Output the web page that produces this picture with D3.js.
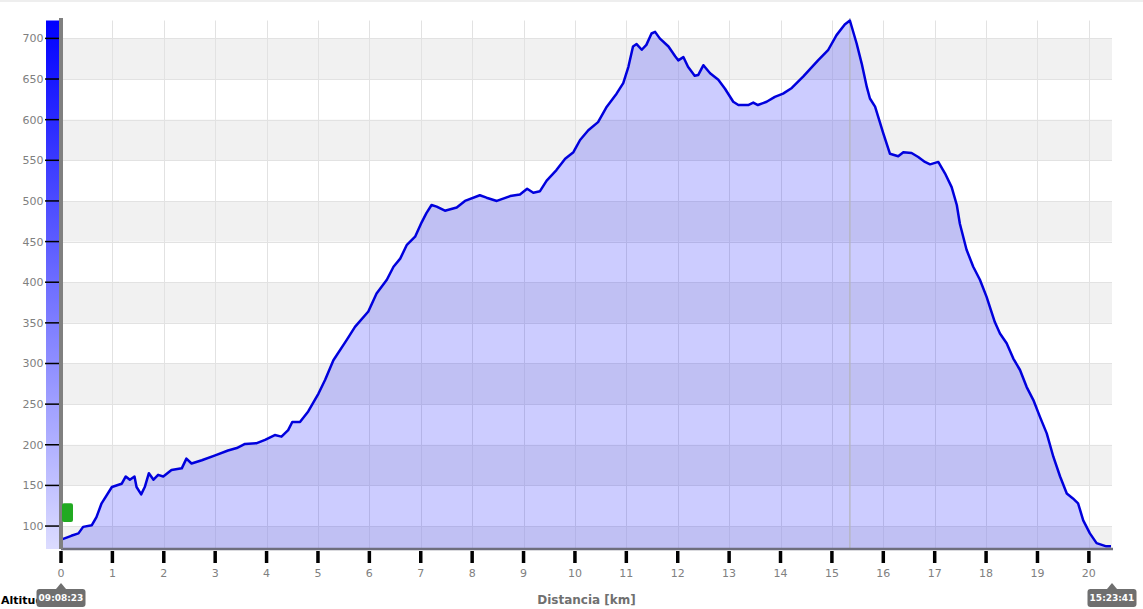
<!DOCTYPE html>
<html>
<head>
<meta charset="utf-8">
<script src="https://cdn.jsdelivr.net/npm/d3@7"></script>
<style>
  body { margin: 0; background: #fff; }
  svg { display: block; font-family: "DejaVu Sans", Verdana, sans-serif; }
</style>
</head>
<body>
<svg width="1143" height="609"></svg>
<script>
// elevation profile
var distKm = [0, 0.03, 0.2, 0.34, 0.43, 0.6, 0.69, 0.79, 0.99, 1.18, 1.26, 1.34, 1.43, 1.47, 1.56, 1.63, 1.71, 1.8, 1.89, 1.99,
  2.15, 2.35, 2.44, 2.54, 2.74, 3.0, 3.25, 3.42, 3.58, 3.81, 3.97, 4.16, 4.29, 4.42, 4.5, 4.65, 4.81, 5.01, 5.14, 5.3,
  5.56, 5.72, 5.98, 6.14, 6.34, 6.47, 6.6, 6.73, 6.89, 7.02, 7.11, 7.21, 7.31, 7.47, 7.7, 7.86, 8.15, 8.28, 8.48, 8.74,
  8.93, 9.07, 9.19, 9.32, 9.45, 9.64, 9.81, 9.97, 10.1, 10.26, 10.45, 10.62, 10.81, 10.94, 11.04, 11.13, 11.2, 11.3, 11.39, 11.49,
  11.56, 11.65, 11.82, 11.95, 12.01, 12.11, 12.2, 12.33, 12.4, 12.5, 12.63, 12.79, 12.92, 13.08, 13.18, 13.37, 13.47, 13.56, 13.73, 13.89,
  14.05, 14.22, 14.44, 14.73, 14.93, 15.09, 15.25, 15.35, 15.48, 15.58, 15.68, 15.74, 15.84, 16.0, 16.13, 16.29, 16.39, 16.55, 16.68, 16.81,
  16.91, 17.07, 17.2, 17.33, 17.43, 17.49, 17.62, 17.75, 17.88, 18.01, 18.17, 18.27, 18.4, 18.53, 18.66, 18.79, 18.92, 19.05, 19.18, 19.31,
  19.44, 19.57, 19.69, 19.79, 19.89, 20.02, 20.15, 20.34, 20.43];
var altM = [83, 84, 88, 91, 99, 101, 111, 128, 148, 152, 161, 157, 161, 148, 139, 148, 165, 157, 163, 161,
  169, 171, 183, 177, 181, 187, 193, 196, 201, 202, 206, 212, 210, 218, 228, 228, 241, 263, 280, 304,
  329, 345, 364, 386, 403, 419, 429, 446, 456, 474, 485, 495, 493, 488, 492, 500, 507, 504, 500, 506,
  508, 515, 510, 512, 525, 538, 552, 560, 575, 587, 597, 616, 632, 645, 665, 690, 693, 686, 692, 706,
  708, 700, 690, 678, 673, 677, 665, 654, 655, 667, 657, 649, 638, 622, 618, 618, 621, 618, 622, 628,
  632, 639, 653, 673, 686, 704, 717, 722, 694, 669, 640, 626, 616, 583, 558, 555, 560, 559, 554, 548,
  545, 548, 534, 517, 495, 472, 440, 419, 403, 382, 351, 337, 325, 306, 292, 271, 255, 234, 214, 185,
  161, 140, 134, 128, 107, 91, 79, 75, 75];

var xTicks = d3.range(0, 21);
var yTicks = d3.range(100, 701, 50);
var startTime = '09:08:23';
var endTime = '15:23:41';
var cursorKm = 15.35;
var xLabel = 'Distancia [km]';
var yLabel = 'Altitud [m]';

var data = distKm.map(function(d, i) { return {km: d, alt: altM[i]}; });

var svg = d3.select('svg');
var plotLeft = 61, plotRight = 1112, plotTop = 20.5, plotBottom = 548;

var x = d3.scaleLinear().domain([0, 20.45]).range([plotLeft, plotRight]);
var y = d3.scaleLinear().domain([73, 722]).range([plotBottom, plotTop]);

// thin strip at the very top
svg.append('rect').attr('x', 0).attr('y', 0).attr('width', 1143).attr('height', 2).attr('fill', '#eeeeee');

// alternating bands
var bands = yTicks.filter(function(v) { return v % 100 === 0; });
svg.append('g').selectAll('rect')
  .data(bands)
  .enter().append('rect')
  .attr('x', plotLeft)
  .attr('width', plotRight - plotLeft)
  .attr('y', function(d) { return y(d); })
  .attr('height', function(d) { return Math.min(y(d - 50), plotBottom) - y(d); })
  .attr('fill', '#f1f1f1');

// grid
var grid = svg.append('g').attr('stroke', '#e2e2e2').attr('stroke-width', 1);
grid.selectAll('.h').data(yTicks).enter().append('line')
  .attr('x1', plotLeft).attr('x2', plotRight)
  .attr('y1', function(d) { return Math.round(y(d)) + 0.5; })
  .attr('y2', function(d) { return Math.round(y(d)) + 0.5; });
grid.selectAll('.v').data(xTicks).enter().append('line')
  .attr('y1', plotTop).attr('y2', plotBottom)
  .attr('x1', function(d) { return Math.round(x(d)) + 0.5; })
  .attr('x2', function(d) { return Math.round(x(d)) + 0.5; });

// area + line
var area = d3.area()
  .x(function(d) { return x(d.km); })
  .y0(plotBottom)
  .y1(function(d) { return y(d.alt); });
var line = d3.line()
  .x(function(d) { return x(d.km); })
  .y(function(d) { return y(d.alt); });

svg.append('path').datum(data)
  .attr('d', area)
  .attr('fill', '#0000ff')
  .attr('fill-opacity', 0.2);

// cursor line at the summit
svg.append('line')
  .attr('x1', x(cursorKm)).attr('x2', x(cursorKm))
  .attr('y1', 18).attr('y2', plotBottom)
  .attr('stroke', '#b4b4bc').attr('stroke-width', 1.3);

svg.append('path').datum(data)
  .attr('d', line)
  .attr('fill', 'none')
  .attr('stroke', '#0000dd')
  .attr('stroke-width', 2.5)
  .attr('stroke-linejoin', 'round');

// bottom axis line
svg.append('line')
  .attr('x1', plotLeft).attr('x2', plotRight + 1)
  .attr('y1', plotBottom + 1).attr('y2', plotBottom + 1)
  .attr('stroke', '#6e6e7c').attr('stroke-width', 2.5);

// colour bar on the left
var grad = svg.append('defs').append('linearGradient')
  .attr('id', 'altGrad').attr('x1', 0).attr('x2', 0).attr('y1', 0).attr('y2', 1);
grad.append('stop').attr('offset', '0%').attr('stop-color', '#0000ff');
grad.append('stop').attr('offset', '100%').attr('stop-color', '#dcdcff');
svg.append('rect')
  .attr('x', 46).attr('y', plotTop).attr('width', 13).attr('height', plotBottom + 1 - plotTop)
  .attr('fill', 'url(#altGrad)');

// y-axis grey bar
svg.append('rect')
  .attr('x', 59).attr('y', 18).attr('width', 4).attr('height', plotBottom + 1 - 18)
  .attr('fill', '#808080');

// y ticks
var yAx = svg.append('g');
yAx.selectAll('line').data(yTicks).enter().append('line')
  .attr('x1', 45).attr('x2', 59)
  .attr('y1', function(d) { return y(d); })
  .attr('y2', function(d) { return y(d); })
  .attr('stroke', '#000').attr('stroke-width', 1.5);
yAx.selectAll('text').data(yTicks).enter().append('text')
  .attr('x', 43.5)
  .attr('y', function(d) { return y(d); })
  .attr('dy', '0.36em')
  .attr('text-anchor', 'end')
  .attr('font-size', 11)
  .attr('fill', '#808080')
  .text(function(d) { return d; });

// x ticks
var xAx = svg.append('g');
xAx.selectAll('line').data(xTicks).enter().append('line')
  .attr('x1', function(d) { return x(d); })
  .attr('x2', function(d) { return x(d); })
  .attr('y1', 551).attr('y2', 563)
  .attr('stroke', '#000').attr('stroke-width', 3.5);
xAx.selectAll('text').data(xTicks).enter().append('text')
  .attr('x', function(d) { return x(d); })
  .attr('y', 577)
  .attr('text-anchor', 'middle')
  .attr('font-size', 11)
  .attr('fill', '#808080')
  .text(function(d) { return d; });

// axis titles
svg.append('text')
  .attr('x', (plotLeft + plotRight) / 2).attr('y', 604)
  .attr('text-anchor', 'middle')
  .attr('font-size', 12).attr('font-weight', 'bold')
  .attr('fill', '#707070')
  .text(xLabel);
svg.append('text')
  .attr('x', 1).attr('y', 604)
  .attr('font-size', 11).attr('font-weight', 'bold')
  .attr('fill', '#000')
  .text(yLabel);

// start marker
svg.append('rect')
  .attr('x', x(0) + 1).attr('y', y(128))
  .attr('width', 11).attr('height', y(105) - y(128))
  .attr('rx', 2)
  .attr('fill', '#22aa22');

// time call-outs
function timeBox(km, label) {
  var cx = x(km);
  var g = svg.append('g');
  var bw = 49, bh = 18, by = 589;
  var bx = Math.min(cx - bw / 2, 1143 - bw - 3);
  g.append('path')
    .attr('d', 'M' + (cx - 5) + ',' + by + 'L' + cx + ',' + (by - 6) + 'L' + (cx + 5) + ',' + by + 'Z')
    .attr('fill', '#6f6f6f');
  g.append('rect')
    .attr('x', bx).attr('y', by).attr('width', bw).attr('height', bh)
    .attr('rx', 3).attr('fill', '#6f6f6f');
  g.append('text')
    .attr('x', bx + bw / 2).attr('y', by + bh / 2)
    .attr('dy', '0.36em')
    .attr('text-anchor', 'middle')
    .attr('font-size', 9).attr('font-weight', 'bold')
    .attr('fill', '#fff')
    .text(label);
}
timeBox(0, startTime);
timeBox(20.45, endTime);
</script>
</body>
</html>
